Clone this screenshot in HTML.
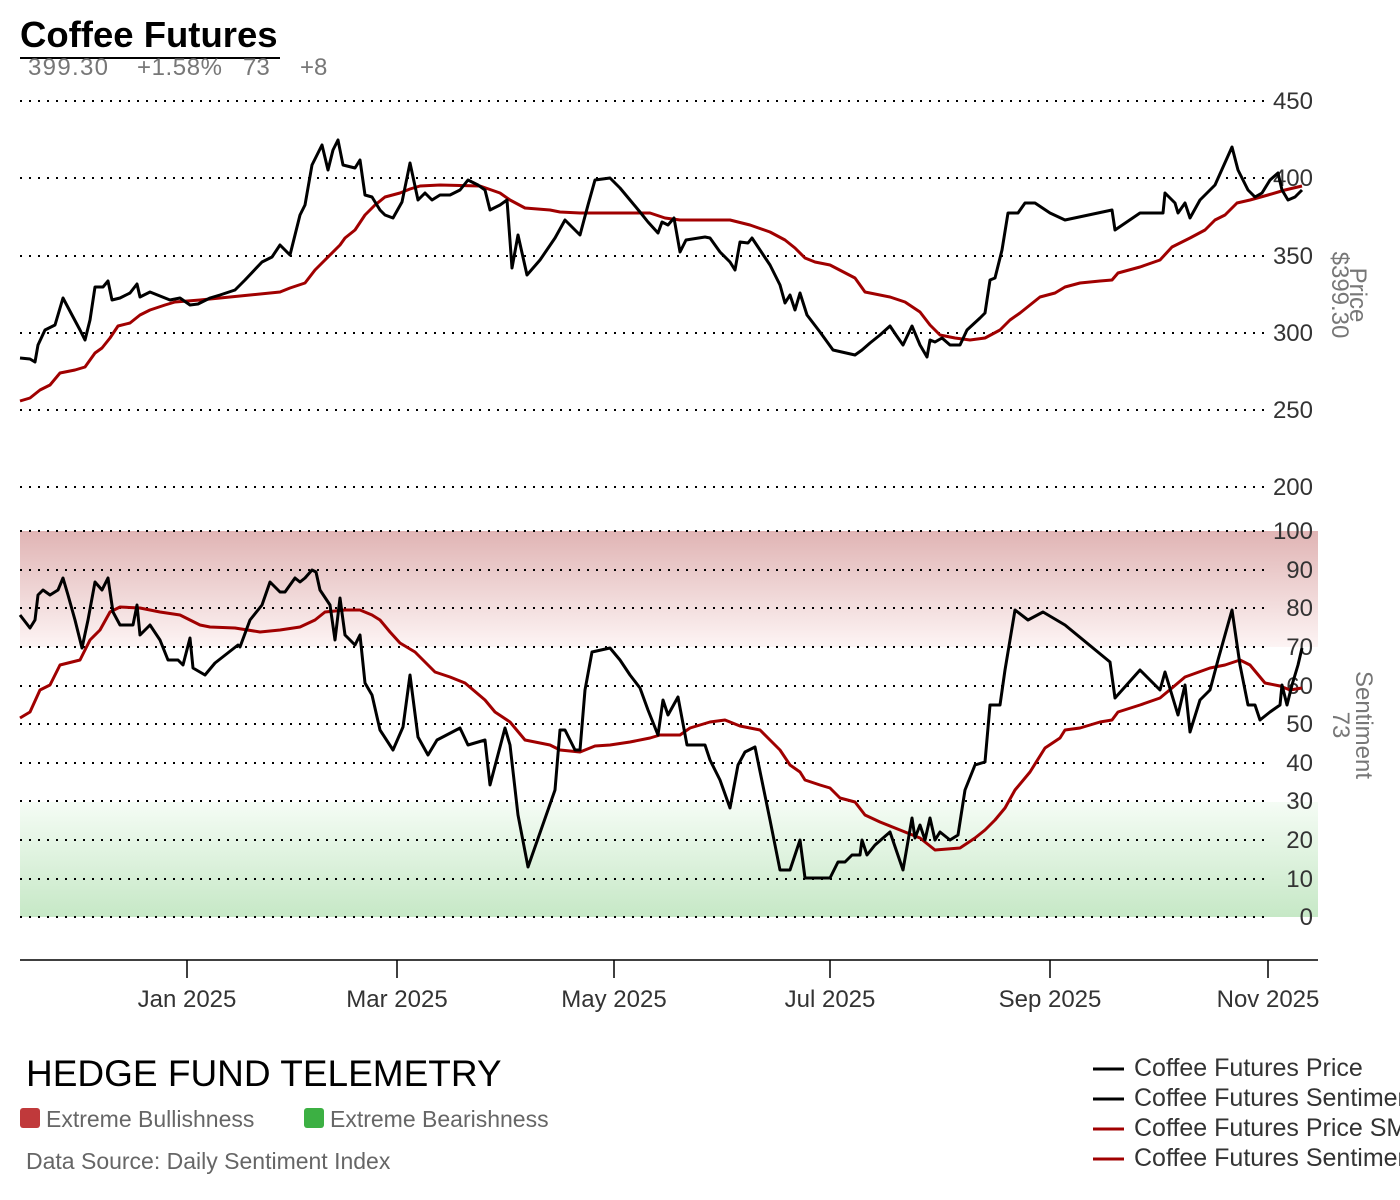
<!DOCTYPE html>
<html><head><meta charset="utf-8"><style>
html,body{margin:0;padding:0;background:#fff;width:1400px;height:1200px;overflow:hidden}
svg{display:block;font-family:"Liberation Sans",sans-serif}
</style></head><body>
<svg width="1400" height="1200" viewBox="0 0 1400 1200" xmlns="http://www.w3.org/2000/svg">
<defs>
<linearGradient id="rg" x1="0" y1="0" x2="0" y2="1"><stop offset="0" stop-color="#e0b4b4"/><stop offset="1" stop-color="#fdf4f4"/></linearGradient>
<linearGradient id="gg" x1="0" y1="0" x2="0" y2="1"><stop offset="0" stop-color="#f5fcf5"/><stop offset="1" stop-color="#c6e8c6"/></linearGradient>
</defs>
<rect x="20" y="531" width="1298" height="116" fill="url(#rg)"/>
<rect x="20" y="802" width="1298" height="115" fill="url(#gg)"/>
<text x="20" y="47" font-size="36.5" font-weight="bold" fill="#000">Coffee Futures</text>
<line x1="20" y1="58" x2="280" y2="58" stroke="#000" stroke-width="2"/>
<text x="28" y="75" font-size="24" fill="#777" textLength="80">399.30</text>
<text x="137" y="75" font-size="24" fill="#777" textLength="85">+1.58%</text>
<text x="243" y="75" font-size="24" fill="#777">73</text>
<text x="300" y="75" font-size="24" fill="#777">+8</text>
<g stroke="#000" stroke-width="2" stroke-dasharray="2,7" fill="none">
<line x1="20" y1="101" x2="1265" y2="101"/><line x1="20" y1="178" x2="1265" y2="178"/><line x1="20" y1="256" x2="1265" y2="256"/><line x1="20" y1="333" x2="1265" y2="333"/><line x1="20" y1="410" x2="1265" y2="410"/><line x1="20" y1="487" x2="1265" y2="487"/>
<line x1="20" y1="531" x2="1265" y2="531"/><line x1="20" y1="570" x2="1265" y2="570"/><line x1="20" y1="608" x2="1265" y2="608"/><line x1="20" y1="647" x2="1265" y2="647"/><line x1="20" y1="686" x2="1265" y2="686"/><line x1="20" y1="724" x2="1265" y2="724"/><line x1="20" y1="763" x2="1265" y2="763"/><line x1="20" y1="801" x2="1265" y2="801"/><line x1="20" y1="840" x2="1265" y2="840"/><line x1="20" y1="879" x2="1265" y2="879"/><line x1="20" y1="917" x2="1265" y2="917"/>
</g>
<g font-size="24" fill="#333" text-anchor="end">
<text x="1313" y="109">450</text><text x="1313" y="186">400</text><text x="1313" y="264">350</text><text x="1313" y="341">300</text><text x="1313" y="418">250</text><text x="1313" y="495">200</text>
<text x="1313" y="539">100</text><text x="1313" y="578">90</text><text x="1313" y="616">80</text><text x="1313" y="655">70</text><text x="1313" y="694">60</text><text x="1313" y="732">50</text><text x="1313" y="771">40</text><text x="1313" y="809">30</text><text x="1313" y="848">20</text><text x="1313" y="887">10</text><text x="1313" y="925">0</text>
</g>
<g font-size="24" fill="#777" text-anchor="middle">
<text transform="translate(1350,295) rotate(90)">Price</text>
<text transform="translate(1332,295) rotate(90)">$399.30</text>
<text transform="translate(1356,725) rotate(90)">Sentiment</text>
<text transform="translate(1333,725) rotate(90)">73</text>
</g>
<g fill="none" stroke-linejoin="round" stroke-width="3">
<polyline stroke="#a00000" points="20,401 30,398 40,390 50,385 60,373 75,370 85,367 95,353 102,348 110,338 118,326 130,323 140,315 150,310 165,305 175,302 200,300 220,298 250,295 280,292 290,288 305,283 315,270 325,260 340,245 345,238 355,230 365,215 375,205 385,197 400,193 410,189 420,186 440,185 480,186 500,193 510,200 525,208 550,210 560,212 580,213 650,213 665,218 680,220 730,220 750,225 770,232 785,240 795,248 805,258 815,262 830,265 855,278 865,292 890,297 905,302 920,312 930,325 940,335 955,338 970,340 985,338 1000,330 1010,320 1020,313 1030,305 1040,297 1055,293 1065,287 1080,283 1100,281 1112,280 1118,273 1140,267 1160,260 1172,247 1190,238 1205,230 1215,220 1225,215 1237,203 1250,200 1268,195 1285,190 1302,186"/>
<polyline stroke="#000" points="20,358 30,359 35,362 38,345 45,330 55,325 63,298 72,315 80,330 85,340 90,320 95,287 103,287 108,281 112,300 120,298 130,293 137,284 140,297 150,292 160,296 170,300 180,298 190,305 198,304 210,298 220,295 235,290 245,280 262,262 272,257 280,245 290,255 300,215 305,205 312,165 322,145 328,170 333,150 338,140 343,165 355,168 360,160 365,195 372,197 380,210 385,215 393,218 402,202 410,163 418,200 425,193 432,200 440,195 450,195 460,190 468,180 478,185 485,190 490,210 500,205 507,200 512,268 518,235 527,275 540,260 555,238 565,220 580,235 588,205 595,180 610,178 620,188 630,200 640,212 648,222 658,233 662,222 668,225 674,218 680,252 686,240 705,237 710,238 720,252 730,262 735,270 740,242 748,243 752,238 760,250 770,265 780,285 785,303 790,295 795,310 800,293 807,315 820,332 833,350 855,355 862,350 870,343 880,335 890,326 896,335 903,345 912,326 920,345 927,357 930,340 935,342 942,338 950,345 960,345 967,330 980,318 985,313 990,280 995,278 1002,250 1008,213 1018,213 1025,203 1035,203 1050,213 1065,220 1112,210 1115,230 1140,213 1163,213 1165,193 1175,203 1178,213 1185,203 1190,218 1200,200 1215,185 1232,147 1238,170 1248,190 1255,197 1262,193 1270,180 1278,173 1282,190 1288,200 1295,197 1302,190"/>
<polyline stroke="#a00000" points="20,718 30,712 40,690 50,685 60,665 80,660 90,640 100,630 110,612 120,607 140,608 160,612 180,615 200,625 210,627 235,628 260,632 280,630 300,627 315,620 325,612 345,610 360,610 372,615 380,620 390,632 400,643 415,652 425,662 435,672 450,677 465,683 485,700 495,712 510,722 525,740 550,745 560,750 580,752 595,746 610,745 630,742 650,738 660,735 680,735 690,728 710,722 725,720 740,726 760,730 770,740 780,750 790,765 800,772 805,780 820,785 830,788 840,798 855,802 865,815 880,822 895,828 905,832 920,838 935,850 960,848 975,838 985,830 995,820 1005,808 1015,790 1030,772 1045,748 1060,738 1065,730 1080,728 1100,722 1112,720 1118,712 1140,705 1160,698 1172,688 1185,677 1210,668 1225,665 1240,660 1250,665 1265,683 1280,686 1290,690 1302,688"/>
<polyline stroke="#000" points="20,615 30,628 35,620 38,595 43,590 50,595 58,590 63,578 68,595 75,620 82,648 88,620 95,582 102,590 108,578 113,612 120,625 133,625 137,605 140,635 150,625 160,640 168,660 178,660 183,665 190,638 193,668 205,675 215,663 238,645 240,647 250,620 262,605 270,582 280,592 285,592 295,578 300,582 305,578 312,570 316,572 320,590 330,605 335,640 340,598 345,635 355,645 360,635 365,683 372,695 380,730 393,750 403,727 410,675 418,737 428,755 437,740 460,728 468,745 485,740 490,785 505,728 510,745 518,815 528,867 555,790 560,730 565,730 575,750 580,750 585,690 592,652 610,648 620,660 630,675 640,688 648,710 658,735 663,700 668,715 678,697 687,745 705,745 710,760 720,780 730,808 738,765 745,752 755,747 770,820 780,870 790,870 800,840 805,878 830,878 838,862 845,862 852,855 860,855 862,840 867,855 875,845 890,832 903,870 912,818 915,838 920,825 925,840 930,818 935,840 940,832 950,840 958,835 965,790 975,765 985,762 990,705 1000,705 1005,670 1015,610 1028,620 1043,612 1065,625 1110,662 1115,698 1140,670 1160,690 1165,672 1178,715 1185,685 1190,732 1200,700 1210,690 1218,660 1232,610 1240,665 1248,705 1255,705 1260,720 1270,712 1280,705 1282,685 1287,705 1292,685 1298,665 1302,648"/>
</g>
<line x1="20" y1="960" x2="1318" y2="960" stroke="#000" stroke-width="1.5"/>
<g stroke="#000" stroke-width="1.5"><line x1="187" y1="960" x2="187" y2="978"/><line x1="397" y1="960" x2="397" y2="978"/><line x1="614" y1="960" x2="614" y2="978"/><line x1="830" y1="960" x2="830" y2="978"/><line x1="1050" y1="960" x2="1050" y2="978"/><line x1="1268" y1="960" x2="1268" y2="978"/></g>
<g font-size="24" fill="#333" text-anchor="middle">
<text x="187" y="1007">Jan 2025</text><text x="397" y="1007">Mar 2025</text><text x="614" y="1007">May 2025</text><text x="830" y="1007">Jul 2025</text><text x="1050" y="1007">Sep 2025</text><text x="1268" y="1007">Nov 2025</text>
</g>
<text x="26" y="1086" font-size="37" fill="#000">HEDGE FUND TELEMETRY</text>
<rect x="20" y="1108" width="20" height="20" rx="3" fill="#c0393b"/>
<text x="46" y="1127" font-size="23" fill="#666">Extreme Bullishness</text>
<rect x="304" y="1108" width="20" height="20" rx="3" fill="#3cb043"/>
<text x="330" y="1127" font-size="23" fill="#666">Extreme Bearishness</text>
<text x="26" y="1169" font-size="23" fill="#666">Data Source: Daily Sentiment Index</text>
<g stroke-width="3"><line x1="1093" y1="1069" x2="1124" y2="1069" stroke="#000"/><line x1="1093" y1="1099" x2="1124" y2="1099" stroke="#000"/><line x1="1093" y1="1129" x2="1124" y2="1129" stroke="#a00000"/><line x1="1093" y1="1159" x2="1124" y2="1159" stroke="#a00000"/></g>
<g font-size="25" fill="#333">
<text x="1134" y="1076">Coffee Futures Price</text><text x="1134" y="1106">Coffee Futures Sentiment</text><text x="1134" y="1136">Coffee Futures Price SMA</text><text x="1134" y="1166">Coffee Futures Sentiment SMA</text>
</g>
</svg>
</body></html>
